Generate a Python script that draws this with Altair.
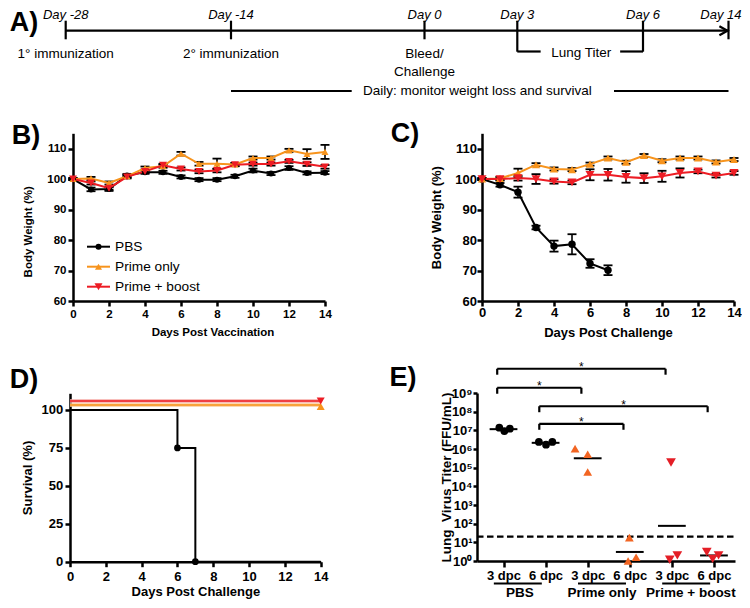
import json
import altair as alt
import numpy as np
import pandas as pd

FONT = "Liberation Sans"
BLACK = "#000000"
ORANGE = "#F7941D"
RED = "#ED1C24"
E_ORANGE = "#F26522"
E_RED = "#E41E26"

W, H = 734, 592
M = 8


def px(v):
    return v - M


# ---------------------------------------------------------------- data
SERIES = ["PBS", "Prime only", "Prime + boost"]
DAYS = list(range(15))

# A) study timeline
TL_DAYS = [-28, -14, 0, 3, 6, 14]
TL_LABELS = ["Day -28", "Day -14", "Day 0", "Day 3", "Day 6", "Day 14"]
TL_EVENT_DAYS = [-28, -14, 0]
TL_EVENTS = ["1° immunization", "2° immunization", "Bleed/\nChallenge"]
TL_TITER_DAYS = [3, 6]
TL_TITER_TEXT = "Lung Titer"
TL_DAILY_DAYS = [-14, 14]
TL_DAILY_TEXT = "Daily: monitor weight loss and survival"

# B) body weight after vaccination
B_PBS = [100, 96.6, 96.7, 101.2, 102.2, 102.2, 100.7, 99.8, 99.8, 100.9, 102.8, 101.8, 103.6, 102.0, 102.1]
B_PRIME = [100, 100.2, 98.7, 100.9, 103.6, 104.2, 108.3, 105.0, 105.0, 104.8, 106.9, 106.9, 109.4, 108.2, 108.9]
B_BOOST = [100, 98.7, 97.0, 100.7, 102.5, 104.5, 103.3, 102.5, 102.8, 104.7, 104.9, 104.9, 105.8, 104.9, 104.0]
B_PBS_ERR = [0.3, 0.6, 0.6, 0.5, 0.5, 0.5, 0.5, 0.5, 0.5, 0.5, 0.6, 0.5, 0.6, 0.5, 0.5]
B_PRIME_ERR = [0.3, 0.5, 0.5, 0.5, 0.5, 0.5, 0.6, 0.6, 1.7, 0.5, 0.5, 0.5, 0.5, 1.6, 2.3]
B_BOOST_ERR = [0.3, 0.5, 0.5, 0.5, 0.5, 0.5, 0.5, 0.6, 0.6, 0.5, 0.5, 0.5, 0.5, 0.6, 0.6]

# C) body weight after challenge
C_PBS = [100, 98.1, 95.7, 84.1, 78.0, 78.6, 72.3, 70.1, None, None, None, None, None, None, None]
C_PRIME = [100, 100.2, 102.0, 104.7, 103.3, 103.1, 104.9, 106.9, 105.5, 107.7, 106.0, 106.9, 106.9, 105.6, 106.4]
C_BOOST = [100, 100.0, 100.3, 100.0, 99.2, 98.9, 101.4, 101.4, 100.7, 100.3, 100.9, 102.0, 102.5, 101.1, 102.0]
C_PBS_ERR = [0.3, 0.6, 1.8, 0.6, 1.8, 3.3, 1.4, 1.6, 0, 0, 0, 0, 0, 0, 0]
C_PRIME_ERR = [0.3, 0.5, 1.4, 0.5, 0.5, 0.5, 0.5, 0.5, 0.5, 0.5, 0.5, 0.5, 0.5, 0.5, 0.5]
C_BOOST_ERR = [0.3, 0.5, 0.8, 1.6, 0.7, 0.6, 1.8, 1.9, 1.9, 1.6, 1.8, 1.5, 0.6, 0.6, 0.6]

# D) survival
D_PBS_T = [0, 6, 7, 14]
D_PBS_S = [100, 75, 0, 0]
D_PBS_EVT_T = [6, 7]
D_PBS_EVT_S = [75, 0]
D_PRIME_T = [0, 14]
D_PRIME_S = [100, 100]
D_BOOST_T = [0, 14]
D_BOOST_S = [100, 100]

# E) lung virus titer
E_CATS = [1, 2, 3, 4, 5, 6]
E_TICK_LABELS = ["3 dpc", "6 dpc", "3 dpc", "6 dpc", "3 dpc", "6 dpc"]
E_CAT_GROUP = ["PBS", "PBS", "Prime only", "Prime only", "Prime + boost", "Prime + boost"]
E_VALUES = [
    [1.38e7, 9.1e6, 1.23e7],
    [2.4e6, 1.7e6, 2.4e6],
    [1.05e6, 5.2e5, 5.9e4],
    [17.8, 1.0, 1.6],
    [1.9e5, 1.17, 2.0],
    [3.0, 1.3, 2.0],
]
E_JITTER = [
    [-0.10, 0.02, 0.15],
    [-0.16, 0.01, 0.16],
    [-0.30, 0.00, 0.00],
    [-0.01, -0.04, 0.15],
    [-0.02, -0.05, 0.13],
    [-0.17, -0.03, 0.11],
]
E_LOD = 20
E_GROUP_FIRST_CAT = [1, 3, 5]
E_SIG_PAIRS = [(1, 5), (1, 3), (2, 6), (2, 4)]
E_SIG_LEVELS = [10.30, 9.28, 8.29, 7.35]  # log10 height of bracket
E_SIG_TEXT = "*"

LETTERS = ["A)", "B)", "C)", "D)", "E)"]

# ---------------------------------------------------------------- layout constants
LETTER_POS = [(24, 21), (26, 134), (405, 132), (24, 378), (403, 376)]
E_GROUP_LABEL_SHIFT = [0.39, 0.34, 0.45]
E_BOTTOM = 561      # pixel row of 10^0 in panel E
E_TOP = 393         # pixel row of 10^9 in panel E

col_scale = alt.Scale(domain=SERIES, range=[BLACK, ORANGE, RED])
shape_scale = alt.Scale(domain=SERIES, range=["circle", "triangle-up", "triangle-down"])

LAYERS = []

# ---------------------------------------------------------------- A) timeline
xa = alt.Scale(domain=TL_DAYS, range=[px(65.7), px(231), px(424.5), px(517.3), px(643), px(728.5)],
               nice=False, zero=False)


def XA(f="day:Q"):
    return alt.X(f, scale=xa, axis=None)


tl_df = pd.DataFrame({"day": TL_DAYS, "label": TL_LABELS})
tl_span = pd.DataFrame({"start": [min(TL_DAYS)], "end": [max(TL_DAYS)]})
tick_df = pd.DataFrame({"day": [d for d in TL_DAYS if d not in TL_TITER_DAYS]})
titer_df = pd.DataFrame({"day": TL_TITER_DAYS})
titer_span = pd.DataFrame({"start": [TL_TITER_DAYS[0]], "end": [TL_TITER_DAYS[1]],
                           "mid": [sum(TL_TITER_DAYS) / 2], "text": [TL_TITER_TEXT]})
ev_df = pd.DataFrame({"day": TL_EVENT_DAYS, "text": TL_EVENTS})
daily_df = pd.DataFrame({"start": [TL_DAILY_DAYS[0]], "end": [TL_DAILY_DAYS[1]], "text": [TL_DAILY_TEXT]})

LAYERS += [
    alt.Chart(tl_span).mark_rule(strokeWidth=2.2, color=BLACK).encode(
        x=XA("start:Q"), x2="end:Q", y=alt.value(px(30.7))),
    alt.Chart(tick_df).mark_rule(strokeWidth=2.2, color=BLACK).encode(
        x=XA(), y=alt.value(px(20.7)), y2=alt.value(px(39.3))),
    alt.Chart(titer_df).mark_rule(strokeWidth=2.2, color=BLACK).encode(
        x=XA(), y=alt.value(px(20.7)), y2=alt.value(px(51.7))),
    alt.Chart(titer_span).mark_rule(strokeWidth=2.2, color=BLACK, x2Offset=-39.5).encode(
        x=XA("start:Q"), x2="mid:Q", y=alt.value(px(51.5))),
    alt.Chart(titer_span).mark_rule(strokeWidth=2.2, color=BLACK, xOffset=40).encode(
        x=XA("mid:Q"), x2="end:Q", y=alt.value(px(51.5))),
    alt.Chart(titer_span).mark_text(fontSize=13.5, baseline="middle", xOffset=1).encode(
        x=XA("mid:Q"), y=alt.value(px(52.7)), text="text:N"),
    alt.Chart(pd.DataFrame({"day": [max(TL_DAYS)]})).mark_point(
        shape="M-1.8,-1L0,0L-1.8,1", filled=False, strokeWidth=2.2, size=81, color=BLACK, opacity=1,
        xOffset=-1).encode(x=XA(), y=alt.value(px(30.7))),
    alt.Chart(tl_df[tl_df.day < max(TL_DAYS)]).mark_text(fontSize=13, fontStyle="italic", baseline="middle").encode(
        x=XA(), y=alt.value(px(14.5)), text="label:N"),
    alt.Chart(tl_df[tl_df.day == max(TL_DAYS)]).mark_text(
        fontSize=13, fontStyle="italic", baseline="middle", align="right", xOffset=13).encode(
        x=XA(), y=alt.value(px(14.5)), text="label:N"),
    alt.Chart(ev_df).mark_text(fontSize=13.5, baseline="top", lineBreak="\n", lineHeight=17.7).encode(
        x=XA(), y=alt.value(px(47.2)), text="text:N"),
    alt.Chart(daily_df).mark_rule(strokeWidth=2.2, color=BLACK, x2Offset=120.7).encode(
        x=XA("start:Q"), x2="start:Q", y=alt.value(px(91))),
    alt.Chart(daily_df).mark_rule(strokeWidth=2.2, color=BLACK, xOffset=-114.5).encode(
        x=XA("end:Q"), x2="end:Q", y=alt.value(px(91))),
    alt.Chart(daily_df).mark_text(fontSize=13.5, baseline="middle", align="left", xOffset=132).encode(
        x=XA("start:Q"), y=alt.value(px(91)), text="text:N"),
]


# ---------------------------------------------------------------- B) & C) weight panels
def weight_df(vals, errs):
    rows = []
    for s, v, e in zip(SERIES, vals, errs):
        for d, y, er in zip(DAYS, v, e):
            if y is None:
                continue
            rows.append(dict(series=s, day=d, w=y, lo=y - er, hi=y + er))
    return pd.DataFrame(rows)


def weight_panel(df, x0, font, xtitle, ytpad, xtpad, xlpad, ylpad, sizes, cap, xtitle_x=None, ytitle_y=None):
    xs = alt.Scale(domain=[0, 14], range=[px(x0), px(x0 + 252)], nice=False, zero=False)
    ys = alt.Scale(domain=[60, 115], range=[px(301), px(133.3)], nice=False, zero=False)
    xkw = {} if xtitle_x is None else {"titleX": px(xtitle_x)}
    ykw = {} if ytitle_y is None else {"titleY": px(ytitle_y)}
    xax = alt.Axis(orient="bottom", offset=px(301) - H, values=list(range(0, 15, 2)), title=xtitle,
                   labelFontSize=font, titleFontSize=font, labelPadding=xlpad, titlePadding=xtpad, **xkw)
    yax = alt.Axis(orient="left", offset=-px(x0), values=[60, 70, 80, 90, 100, 110],
                   title="Body Weight (%)", labelFontSize=font, titleFontSize=font,
                   labelPadding=ylpad, titlePadding=ytpad, **ykw)
    sz = alt.Scale(domain=SERIES, range=sizes)
    base = alt.Chart(df)

    def X(ax=None):
        return alt.X("day:Q", scale=xs, axis=ax)

    err = base.mark_rule(color=BLACK, strokeWidth=1.6).encode(
        x=X(), y=alt.Y("lo:Q", scale=ys, axis=None), y2="hi:Q")
    cap_hi = base.mark_rule(color=BLACK, strokeWidth=1.8, xOffset=-cap, x2Offset=cap).encode(
        x=X(), x2="day:Q", y=alt.Y("hi:Q", scale=ys, axis=None))
    cap_lo = base.mark_rule(color=BLACK, strokeWidth=1.8, xOffset=-cap, x2Offset=cap).encode(
        x=X(), x2="day:Q", y=alt.Y("lo:Q", scale=ys, axis=None))
    line = base.mark_line(strokeWidth=2).encode(
        x=X(), y=alt.Y("w:Q", scale=ys, axis=None),
        color=alt.Color("series:N", scale=col_scale, legend=None), detail="series:N")
    pts = base.mark_point(filled=True, opacity=1).encode(
        x=X(xax), y=alt.Y("w:Q", scale=ys, axis=yax),
        color=alt.Color("series:N", scale=col_scale, legend=None),
        shape=alt.Shape("series:N", scale=shape_scale, legend=None),
        size=alt.Size("series:N", scale=sz, legend=None))
    return [err, cap_hi, cap_lo, line, pts]


LAYERS += weight_panel(weight_df([B_PBS, B_PRIME, B_BOOST], [B_PBS_ERR, B_PRIME_ERR, B_BOOST_ERR]),
                       73, 11.5, "Days Post Vaccination", 13.5, 6.8, 2.4, 2, [36, 64, 64], 4.5,
                       xtitle_x=212.5, ytitle_y=231.3)
LAYERS += weight_panel(weight_df([C_PBS, C_PRIME, C_BOOST], [C_PBS_ERR, C_PRIME_ERR, C_BOOST_ERR]),
                       482, 13, "Days Post Challenge", 10.9, 7, 0.5, 0.5, [55, 80, 80], 4.5)

# legend of panel B
leg_df = pd.DataFrame({"series": SERIES})
leg_y = alt.Scale(type="point", domain=SERIES, range=[px(246.7), px(286.7)], padding=0)
leg_sz = alt.Scale(domain=SERIES, range=[36, 64, 64])
LAYERS += [
    alt.Chart(leg_df).mark_rule(strokeWidth=2).encode(
        x=alt.value(px(87)), x2=alt.value(px(110)), y=alt.Y("series:N", scale=leg_y, axis=None),
        color=alt.Color("series:N", scale=col_scale, legend=None)),
    alt.Chart(leg_df).mark_point(filled=True, opacity=1).encode(
        x=alt.value(px(98.5)), y=alt.Y("series:N", scale=leg_y, axis=None),
        color=alt.Color("series:N", scale=col_scale, legend=None),
        shape=alt.Shape("series:N", scale=shape_scale, legend=None),
        size=alt.Size("series:N", scale=leg_sz, legend=None)),
    alt.Chart(leg_df).mark_text(fontSize=13.7, align="left", baseline="middle").encode(
        x=alt.value(px(115)), y=alt.Y("series:N", scale=leg_y, axis=None), text="series:N"),
]

# ---------------------------------------------------------------- D) survival
xd = alt.Scale(domain=[0, 14], range=[px(70), px(320.7)], nice=False, zero=False)
yd = alt.Scale(domain=[0, 111], range=[px(561.7), px(393.3)], nice=False, zero=False)
xd_ax = alt.Axis(orient="bottom", offset=px(561.7) - H, values=list(range(0, 15, 2)),
                 title="Days Post Challenge", labelFontSize=13, titleFontSize=13,
                 labelPadding=3.7, titlePadding=2.5)
yd_ax = alt.Axis(orient="left", offset=-px(70), values=[0, 25, 50, 75, 100], title="Survival (%)",
                 labelFontSize=13, titleFontSize=13, labelPadding=2.3, titlePadding=6.9)

d_pbs_df = pd.DataFrame({"t": D_PBS_T, "s": D_PBS_S})
d_evt_df = pd.DataFrame({"t": D_PBS_EVT_T, "s": D_PBS_EVT_S})
d_prime_df = pd.DataFrame({"t": D_PRIME_T, "s": D_PRIME_S})
d_boost_df = pd.DataFrame({"t": D_BOOST_T, "s": D_BOOST_S})


def XD(ax=None):
    return alt.X("t:Q", scale=xd, axis=ax)


def YD(ax=None):
    return alt.Y("s:Q", scale=yd, axis=ax)


LAYERS += [
    alt.Chart(d_boost_df).mark_line(color="#F6A8A4", strokeWidth=3.6, yOffset=-9).encode(x=XD(), y=YD()),
    alt.Chart(d_prime_df).mark_line(color="#FBCB98", strokeWidth=3.6, yOffset=-5).encode(x=XD(), y=YD()),
    alt.Chart(d_prime_df).mark_line(color=ORANGE, strokeWidth=1.5, yOffset=-5).encode(x=XD(), y=YD()),
    alt.Chart(d_boost_df).mark_line(color=RED, strokeWidth=1.5, yOffset=-9).encode(x=XD(), y=YD()),
    alt.Chart(d_pbs_df).mark_line(interpolate="step-after", color=BLACK, strokeWidth=2).encode(
        x=XD(xd_ax), y=YD(yd_ax)),
    alt.Chart(d_evt_df).mark_point(filled=True, opacity=1, color=BLACK, shape="circle", size=45).encode(
        x=XD(), y=YD()),
    alt.Chart(d_prime_df.tail(1)).mark_point(
        filled=True, opacity=1, color=ORANGE, shape="triangle-up", size=64, yOffset=-3.5).encode(x=XD(), y=YD()),
    alt.Chart(d_boost_df.tail(1)).mark_point(
        filled=True, opacity=1, color=RED, shape="triangle-down", size=64, yOffset=-9).encode(x=XD(), y=YD()),
]

# ---------------------------------------------------------------- E) lung virus titer
xe = alt.Scale(domain=[0.37, 6.5], range=[px(477), px(735)], nice=False, zero=False)
ye = alt.Scale(type="log", domain=[1, 1e9], range=[px(E_BOTTOM), px(E_TOP)], nice=False)
e_col = alt.Scale(domain=SERIES, range=[BLACK, E_ORANGE, E_RED])
e_sz = alt.Scale(domain=SERIES, range=[60, 95, 95])
SUP = ["⁰", "¹", "²", "³", "⁴", "⁵", "⁶", "⁷", "⁸", "⁹"]
xe_ax = alt.Axis(orient="bottom", offset=px(E_BOTTOM) - H, values=E_CATS, title=None,
                 labelExpr=json.dumps(E_TICK_LABELS) + "[datum.value - 1]",
                 labelFontSize=13, tickSize=6, labelPadding=2.5)
ye_ax = alt.Axis(orient="left", offset=-px(477), values=[10 ** i for i in range(10)],
                 labelExpr="'10' + " + json.dumps(SUP, ensure_ascii=False) + "[round(log(datum.value)/LN10)]",
                 title="Lung\u00a0 Virus Titer (FFU/mL)", labelFontSize=13, titleFontSize=13.5,
                 tickSize=4, labelPadding=1, titlePadding=-2)

e_rows = []
for c, g, vals, jit in zip(E_CATS, E_CAT_GROUP, E_VALUES, E_JITTER):
    for v, j in zip(vals, jit):
        e_rows.append(dict(cat=c, group=g, pos=c + j, titer=v))
e_pts_df = pd.DataFrame(e_rows)
E_MEAN_HALF = 0.33
e_mean_df = pd.DataFrame({
    "cat": E_CATS,
    "x0": [c - E_MEAN_HALF for c in E_CATS],
    "x1": [c + E_MEAN_HALF for c in E_CATS],
    "gm": [10 ** np.mean(np.log10(v)) for v in E_VALUES],
})

BR_SHIFT = -0.15
BR_DROP = 0.32
br_h, br_v, br_t = [], [], []
for (a, b), lv in zip(E_SIG_PAIRS, E_SIG_LEVELS):
    br_h.append(dict(x0=a + BR_SHIFT, x1=b + BR_SHIFT, y=10 ** lv))
    for e in (a, b):
        br_v.append(dict(x=e + BR_SHIFT, y0=10 ** lv, y1=10 ** (lv - BR_DROP)))
    br_t.append(dict(x=(a + b) / 2 + BR_SHIFT, y=10 ** lv, t=E_SIG_TEXT))

grp_df = pd.DataFrame({
    "name": SERIES,
    "u0": [c - 0.23 for c in E_GROUP_FIRST_CAT],
    "u1": [c + 0.91 for c in E_GROUP_FIRST_CAT],
    "lx": [c + s for c, s in zip(E_GROUP_FIRST_CAT, E_GROUP_LABEL_SHIFT)],
})

LAYERS += [
    alt.Chart(pd.DataFrame({"lod": [E_LOD]})).mark_rule(
        color=BLACK, strokeWidth=2.3, strokeDash=[6.5, 3.5]).encode(
        x=alt.value(px(477)), x2=alt.value(px(735)), y=alt.Y("lod:Q", scale=ye, axis=None)),
    alt.Chart(e_mean_df).mark_rule(color=BLACK, strokeWidth=2).encode(
        x=alt.X("x0:Q", scale=xe, axis=None), x2="x1:Q", y=alt.Y("gm:Q", scale=ye, axis=None)),
    alt.Chart(pd.DataFrame(br_h)).mark_rule(color=BLACK, strokeWidth=2.2).encode(
        x=alt.X("x0:Q", scale=xe, axis=None), x2="x1:Q", y=alt.Y("y:Q", scale=ye, axis=None)),
    alt.Chart(pd.DataFrame(br_v)).mark_rule(color=BLACK, strokeWidth=2.2).encode(
        x=alt.X("x:Q", scale=xe, axis=None), y=alt.Y("y0:Q", scale=ye, axis=None), y2="y1:Q"),
    alt.Chart(pd.DataFrame(br_t)).mark_text(fontSize=12, baseline="alphabetic", dy=2.6).encode(
        x=alt.X("x:Q", scale=xe, axis=None), y=alt.Y("y:Q", scale=ye, axis=None), text="t:N"),
    alt.Chart(grp_df).mark_rule(color=BLACK, strokeWidth=2).encode(
        x=alt.X("u0:Q", scale=xe, axis=None), x2="u1:Q", y=alt.value(px(583.5))),
    alt.Chart(grp_df).mark_text(fontSize=13.5, fontWeight="bold", baseline="middle").encode(
        x=alt.X("lx:Q", scale=xe, axis=None), y=alt.value(px(593)), text="name:N"),
    alt.Chart(e_pts_df).mark_point(filled=True, opacity=1).encode(
        x=alt.X("pos:Q", scale=xe, axis=xe_ax), y=alt.Y("titer:Q", scale=ye, axis=ye_ax),
        color=alt.Color("group:N", scale=e_col, legend=None),
        shape=alt.Shape("group:N", scale=shape_scale, legend=None),
        size=alt.Size("group:N", scale=e_sz, legend=None)),
]

# ---------------------------------------------------------------- panel letters
for letter, (lx, ly) in zip(LETTERS, LETTER_POS):
    LAYERS.append(
        alt.Chart(pd.DataFrame({"t": [letter]})).mark_text(
            fontSize=27, fontWeight="bold", align="center", baseline="middle").encode(
            x=alt.value(px(lx)), y=alt.value(px(ly + 1.7)), text="t:N"))

chart = alt.layer(*LAYERS).resolve_scale(
    x="independent", y="independent", color="independent", shape="independent", size="independent"
).resolve_axis(x="independent", y="independent").properties(
    width=W, height=H, padding=0, autosize=alt.AutoSizeParams(type="none")
).configure(font=FONT).configure_view(stroke=None).configure_axis(
    grid=False, domainColor=BLACK, tickColor=BLACK, labelColor=BLACK, titleColor=BLACK,
    labelFont=FONT, titleFont=FONT, labelFontWeight="bold", titleFontWeight="bold",
    domainWidth=2.5, tickWidth=2.5, tickSize=5, labelFlush=False, labelOverlap=False
).configure_text(font=FONT, color=BLACK)

chart.save("out.html", embed_options={"renderer": "svg", "actions": False})
